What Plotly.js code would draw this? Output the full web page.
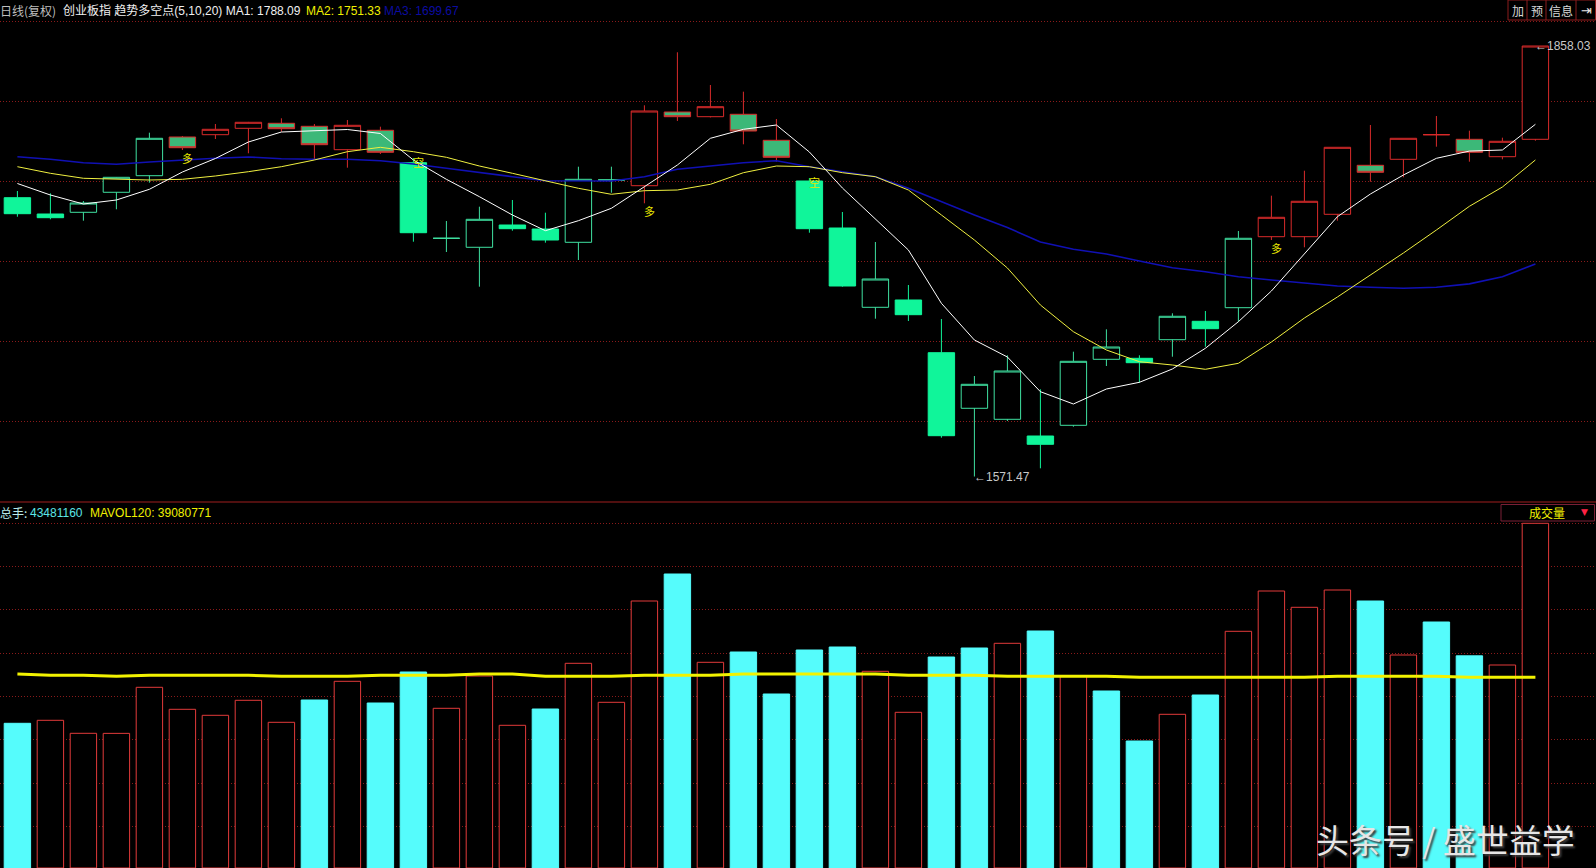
<!DOCTYPE html>
<html>
<head>
<meta charset="utf-8">
<script src="https://cdn.plot.ly/plotly-3.0.1.min.js"></script>
<style>
html,body{margin:0;padding:0;background:#000;overflow:hidden}
#chart{width:1596px;height:868px}
</style>
</head>
<body>
<div id="chart"></div>
<script>
// ---------------- data ----------------
const openP  = [1757.05,1746.20,1747.33,1760.65,1771.70,1797.46,1798.99,1803.25,1806.58,1804.58,1789.00,1801.92,1780.35,1730.03,1724.04,1738.88,1736.22,1727.36,1768.83,1765.04,1814.10,1810.97,1812.57,1795.26,1768.17,1736.88,1684.10,1688.96,1653.88,1616.87,1609.54,1598.43,1605.55,1649.48,1650.15,1662.53,1674.78,1683.83,1731.09,1731.09,1746.00,1778.62,1782.61,1798.99,1795.92,1784.34,1795.92];
const highP  = [1761.51,1759.98,1754.85,1770.83,1800.32,1798.12,1806.11,1807.50,1809.90,1806.11,1808.77,1804.31,1783.48,1741.54,1751.06,1755.52,1747.07,1777.69,1777.69,1818.56,1853.84,1832.07,1827.61,1809.44,1770.16,1747.53,1727.56,1698.94,1676.31,1638.37,1652.15,1629.51,1654.54,1669.45,1652.15,1680.10,1681.63,1734.89,1758.38,1775.02,1790.60,1805.44,1796.59,1811.43,1801.65,1796.99,1858.03];
const lowP   = [1744.40,1742.67,1741.74,1749.33,1767.04,1788.80,1796.12,1786.61,1800.98,1782.15,1777.02,1786.14,1727.76,1720.91,1697.81,1735.09,1727.10,1715.58,1760.38,1753.32,1808.11,1810.50,1792.60,1781.02,1733.75,1697.81,1676.51,1674.98,1597.30,1571.47,1608.41,1576.93,1604.62,1645.02,1633.91,1651.21,1657.87,1674.51,1728.89,1724.04,1741.74,1767.70,1770.63,1791.00,1781.02,1782.61,1794.99];
const closeP = [1746.40,1743.74,1753.52,1770.63,1796.59,1790.33,1802.58,1807.24,1802.98,1792.33,1805.24,1787.27,1733.75,1730.03,1742.67,1736.42,1728.89,1769.30,1768.83,1814.76,1810.97,1817.63,1801.45,1783.94,1736.42,1698.27,1702.93,1679.17,1598.63,1632.84,1641.69,1592.90,1648.15,1657.67,1647.22,1678.11,1669.86,1730.03,1744.00,1754.66,1790.60,1773.96,1796.59,1798.99,1787.27,1794.59,1858.03];
// candle drawing class given by the 趋势多空点 indicator: RU red hollow, RG red frame green body, GH green hollow, GF green filled
const candleStyle = ['GF','GF','GH','GH','GH','RG','RU','RU','RG','RG','RU','RG','GF','GH','GH','GF','GF','GH','GH','RU','RG','RU','RG','RG','GF','GF','GH','GF','GF','GH','GH','GF','GH','GH','GF','GH','GF','GH','RU','RU','RU','RG','RU','RU','RG','RU','RU'];
const ma5  = [1766.50,1758.85,1752.86,1755.52,1762.64,1774.16,1783.14,1794.13,1800.78,1801.45,1802.45,1799.79,1782.15,1769.30,1757.72,1745.54,1735.09,1741.74,1750.00,1764.37,1778.82,1796.59,1802.58,1805.44,1787.47,1763.51,1742.87,1722.24,1686.76,1662.33,1651.01,1627.92,1619.73,1629.71,1634.17,1643.03,1656.81,1674.51,1694.95,1720.04,1744.40,1759.51,1772.16,1783.28,1788.09,1788.80,1805.91];
const ma10 = [1777.69,1773.29,1769.97,1769.30,1768.83,1769.30,1771.50,1774.36,1777.69,1782.15,1787.67,1790.60,1787.67,1783.94,1778.15,1773.29,1768.37,1763.31,1759.31,1761.71,1762.18,1765.97,1773.69,1778.15,1777.69,1773.69,1771.03,1762.18,1745.54,1728.89,1710.26,1685.63,1667.85,1655.67,1647.89,1645.69,1642.83,1646.82,1661.00,1676.97,1690.95,1705.60,1720.24,1735.55,1751.33,1764.17,1782.15];
const ma20 = [1784.34,1782.61,1780.35,1779.28,1780.82,1782.15,1783.28,1784.14,1783.01,1782.61,1782.61,1781.68,1779.48,1776.62,1773.69,1771.03,1768.37,1768.17,1768.17,1771.03,1775.96,1778.15,1780.35,1781.68,1777.69,1774.36,1771.03,1763.31,1754.39,1745.54,1737.21,1727.56,1722.70,1719.58,1714.92,1710.46,1707.79,1704.46,1702.27,1700.07,1698.27,1697.41,1696.74,1697.41,1699.67,1704.46,1712.92];
const volume = [29654000,30269000,27604000,27590000,37031000,32523000,31293000,34367000,29859000,34429000,38261000,33814000,40167000,32728000,39347000,29244000,32584000,41950000,33957000,54717000,60250000,42155000,44266000,35658000,44675000,45290000,40310000,31908000,43241000,45085000,46048000,48569000,39347000,36273000,26026000,31498000,35453000,48508000,56766000,53426000,56971000,54717000,43651000,50414000,43481160,41601000,70641000];
const volDir = ['D','U','U','U','U','U','U','U','U','D','U','D','D','U','U','U','D','U','U','U','D','U','D','D','D','D','U','U','D','D','U','D','U','D','D','U','D','U','U','U','U','D','U','D','D','U','U'];
const mavol120 = [39757000,39491000,39491000,39286000,39491000,39491000,39491000,39491000,39286000,39286000,39286000,39491000,39491000,39491000,39757000,39757000,39286000,39286000,39286000,39491000,39491000,39491000,39757000,39757000,39757000,39757000,39757000,39491000,39491000,39491000,39286000,39286000,39286000,39286000,39081000,39081000,39081000,39081000,39081000,39081000,39286000,39286000,39286000,39286000,39080771,39081000,39081000];
const signalIdx  = [5,12,19,24,38];
const signalText = ['多','空','多','空','多'];
const cursorIdx = 44;

// ---------------- drawing ----------------
const W = 1596, H = 868;
const FONT = 'Liberation Sans, Arial, Noto Sans CJK SC, sans-serif';
const CJK = 'Noto Sans CJK SC, Liberation Sans, sans-serif';
const idx = openP.map((_, i) => i);

const styleDef = {
  RU: {line: '#D92B2B', fill: '#000000'},
  RG: {line: '#D92B2B', fill: '#3CB878'},
  GH: {line: '#3FE0A0', fill: '#000000'},
  GF: {line: '#10F59A', fill: '#10F59A'}
};

const traces = [];
Object.keys(styleDef).forEach(k => {
  const sel = idx.filter(i => candleStyle[i] === k);
  const s = styleDef[k];
  traces.push({
    type: 'candlestick', xaxis: 'x', yaxis: 'y',
    x: sel, open: sel.map(i => openP[i]), high: sel.map(i => highP[i]),
    low: sel.map(i => lowP[i]), close: sel.map(i => closeP[i]),
    increasing: {line: {color: s.line, width: 1}, fillcolor: s.fill},
    decreasing: {line: {color: s.line, width: 1}, fillcolor: s.fill},
    whiskerwidth: 0, hoverinfo: 'skip', showlegend: false
  });
});
traces.push({type: 'scatter', mode: 'lines', x: idx, y: ma20, xaxis: 'x', yaxis: 'y',
  line: {color: '#1010B4', width: 1.6}, hoverinfo: 'skip'});
traces.push({type: 'scatter', mode: 'lines', x: idx, y: ma10, xaxis: 'x', yaxis: 'y',
  line: {color: '#F0F040', width: 1}, hoverinfo: 'skip'});
traces.push({type: 'scatter', mode: 'lines', x: idx, y: ma5, xaxis: 'x', yaxis: 'y',
  line: {color: '#FFFFFF', width: 1}, hoverinfo: 'skip'});

traces.push({
  type: 'bar', x: idx, y: volume, xaxis: 'x', yaxis: 'y2', width: 0.8,
  marker: {
    color: volDir.map(d => d === 'U' ? '#000000' : '#55FCFC'),
    line: {color: volDir.map(d => d === 'U' ? '#E23A3A' : '#55FCFC'), width: 1}
  },
  hoverinfo: 'skip'
});
traces.push({type: 'scatter', mode: 'lines', x: idx, y: mavol120, xaxis: 'x', yaxis: 'y2',
  line: {color: '#F2F200', width: 3}, hoverinfo: 'skip'});

// axis scales (pixel geometry)
const pxPerUnit = 33, firstCenter = 17.4;
const xr0 = -firstCenter / pxPerUnit, xr1 = xr0 + W / pxPerUnit;
const priceRef = 1858.03, priceRefPx = 46, pxPerPt = 1.5023;
const priceAt = p => priceRef - (p - priceRefPx) / pxPerPt;
const topBottomPx = 501.5;
const volPxScale = 204933;  // volume units per pixel
const volTopPx = 503;

const gridColor = '#8A1A1A';

const annotations = [];
function txt(xpx, ypx, text, color, size, anchor, family) {
  annotations.push({xref: 'paper', yref: 'paper', x: xpx / W, y: 1 - ypx / H, text: text,
    showarrow: false, xanchor: anchor || 'left', yanchor: 'middle', borderpad: 0, borderwidth: 0,
    font: {family: family || FONT, size: size, color: color}});
}
// header of price panel
txt(0, 11, '日线(复权)', '#BEBEBE', 12, 'left', CJK);
txt(63, 11, '创业板指 趋势多空点(5,10,20) MA1: ' + ma5[cursorIdx].toFixed(2), '#F0F0F0', 12);
txt(306, 11, 'MA2: ' + ma10[cursorIdx].toFixed(2), '#F0F000', 12);
txt(384, 11, 'MA3: ' + ma20[cursorIdx].toFixed(2), '#0C0CA0', 12);
// buttons
txt(1517.5, 10, '加', '#D8D8D8', 12, 'center', CJK);
txt(1536.5, 10, '预', '#D8D8D8', 12, 'center', CJK);
txt(1561, 10, '信息', '#D8D8D8', 12, 'center', CJK);
txt(1586, 10, '⇥', '#E8E8E8', 13, 'center', 'DejaVu Sans');
// volume header
txt(0, 512.7, '总手:', '#B8E8E8', 12, 'left', CJK);
txt(30, 512.7, String(volume[cursorIdx]), '#5CE6E6', 12);
txt(90, 512.7, 'MAVOL120: ' + mavol120[cursorIdx], '#F0F000', 12);
txt(1547, 512.7, '成交量', '#F0F000', 12, 'center', CJK);
txt(1584.5, 512.2, '▼', '#FF2244', 9, 'center', 'DejaVu Sans');

// highest / lowest markers
let hiI = 0, loI = 0;
idx.forEach(i => { if (highP[i] > highP[hiI]) hiI = i; if (lowP[i] < lowP[loI]) loI = i; });
annotations.push({xref: 'x', yref: 'y', x: hiI, y: highP[hiI], text: '←' + highP[hiI].toFixed(2),
  showarrow: false, xanchor: 'left', yanchor: 'middle', borderpad: 0, borderwidth: 0,
  font: {family: FONT, size: 12, color: '#C8C8C8'}});
annotations.push({xref: 'x', yref: 'y', x: loI, y: lowP[loI], text: '←' + lowP[loI].toFixed(2),
  showarrow: false, xanchor: 'left', yanchor: 'middle', borderpad: 0, borderwidth: 0,
  font: {family: FONT, size: 12, color: '#C8C8C8'}});

// 多 / 空 signals
signalIdx.forEach((i, k) => {
  const bull = signalText[k] === '多';
  annotations.push({xref: 'x', yref: 'y', x: i, y: bull ? lowP[i] : highP[i], text: signalText[k],
    showarrow: false, xanchor: 'center', yanchor: 'middle', xshift: 5, yshift: bull ? -8 : -4,
    borderpad: 0, borderwidth: 0, font: {family: CJK, size: 11, color: '#E6E600'}});
});

// watermark
annotations.push({xref: 'paper', yref: 'paper', x: 1445 / W, y: 1 - 839 / H, text: '头条号 / 盛世益学',
  showarrow: false, xanchor: 'center', yanchor: 'middle', borderpad: 0, borderwidth: 0,
  font: {family: CJK, size: 33, color: '#E6E6E6', shadow: '2px 2px 2px #3A3A3A'}});

const shapes = [
  {type: 'line', xref: 'paper', yref: 'paper', x0: 0, x1: 1, y0: 1 - 502 / H, y1: 1 - 502 / H,
   line: {color: '#A01E1E', width: 1}},
  // button strip
  {type: 'rect', xref: 'paper', yref: 'paper', x0: 1508 / W, x1: 1595.5 / W, y0: 1 - 20 / H, y1: 1,
   line: {color: '#8C1C1C', width: 1}, fillcolor: 'rgba(0,0,0,0)'},
  {type: 'line', xref: 'paper', yref: 'paper', x0: 1527 / W, x1: 1527 / W, y0: 1 - 20 / H, y1: 1, line: {color: '#8C1C1C', width: 1}},
  {type: 'line', xref: 'paper', yref: 'paper', x0: 1546 / W, x1: 1546 / W, y0: 1 - 20 / H, y1: 1, line: {color: '#8C1C1C', width: 1}},
  {type: 'line', xref: 'paper', yref: 'paper', x0: 1576 / W, x1: 1576 / W, y0: 1 - 20 / H, y1: 1, line: {color: '#8C1C1C', width: 1}},
  // 成交量 box
  {type: 'rect', xref: 'paper', yref: 'paper', x0: 1501 / W, x1: 1594.5 / W, y0: 1 - 521 / H, y1: 1 - 504.5 / H,
   line: {color: '#7A2036', width: 1}, fillcolor: '#000000', layer: 'below'}
];

const layout = {
  width: W, height: H, margin: {l: 0, r: 0, t: 0, b: 0, pad: 0},
  paper_bgcolor: '#000000', plot_bgcolor: '#000000',
  showlegend: false, hovermode: false, dragmode: false,
  boxgap: 0.2, boxgroupgap: 0, boxmode: 'overlay',
  xaxis: {range: [xr0, xr1], showgrid: false, zeroline: false, showticklabels: false, ticks: '',
    showline: false, rangeslider: {visible: false}, fixedrange: true, anchor: 'y2'},
  yaxis: {domain: [1 - topBottomPx / H, 1], range: [priceAt(topBottomPx), priceAt(0)],
    tickmode: 'linear', tick0: priceAt(21.3), dtick: 80 / pxPerPt,
    showgrid: true, gridcolor: gridColor, griddash: '1px,2px', gridwidth: 1,
    zeroline: false, showticklabels: false, ticks: '', showline: false, fixedrange: true},
  yaxis2: {domain: [0, 1 - volTopPx / H], range: [0, (H - volTopPx) * volPxScale],
    tickmode: 'linear', tick0: (H - 869.7) * volPxScale, dtick: 43.33 * volPxScale,
    showgrid: true, gridcolor: gridColor, griddash: '1px,2px', gridwidth: 1,
    zeroline: false, showticklabels: false, ticks: '', showline: false, fixedrange: true},
  annotations: annotations,
  shapes: shapes
};

Plotly.newPlot('chart', traces, layout, {staticPlot: true, displayModeBar: false});
</script>
</body>
</html>
